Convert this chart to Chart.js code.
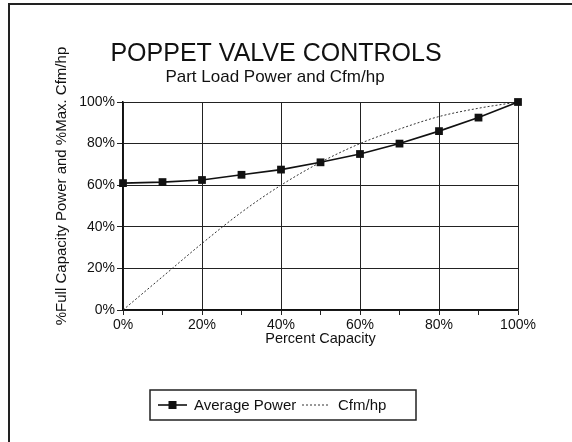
<!DOCTYPE html>
<html>
<head>
<meta charset="utf-8">
<script src="https://cdn.jsdelivr.net/npm/chart.js@4/dist/chart.umd.min.js"></script>
<style>
  html, body { margin: 0; padding: 0; background: #fff; }
  #wrap { width: 572px; height: 442px; position: relative; }
</style>
</head>
<body>
<div id="wrap"><canvas id="c" width="572" height="442"></canvas></div>
<script>
// ---- data ----
const percentCapacity = [0, 10, 20, 30, 40, 50, 60, 70, 80, 90, 100];
const averagePower   = [61, 61.5, 62.5, 65, 67.5, 71, 75, 80, 86, 92.5, 100];
const cfmPerHp       = [0, 16, 32, 47, 60, 71, 80, 87, 93, 97, 100];
const yTickValues    = [0, 20, 40, 60, 80, 100];
const xLabelEvery    = 20;

const titleText    = 'POPPET VALVE CONTROLS';
const subtitleText = 'Part Load Power and Cfm/hp';
const yTitleText   = '%Full Capacity Power and %Max. Cfm/hp';
const xTitleText   = 'Percent Capacity';
const seriesNames  = ['Average Power', 'Cfm/hp'];

const FONT = '"Liberation Sans", Arial, Helvetica, sans-serif';
const INK = '#111';

const decorPlugin = {
  id: 'decor',
  beforeDraw(chart) {
    const ctx = chart.ctx;
    ctx.save();
    ctx.fillStyle = '#fff';
    ctx.fillRect(0, 0, chart.width, chart.height);
    ctx.restore();
  },
  afterDraw(chart) {
    const ctx = chart.ctx;
    ctx.save();
    // frame (left + top only, as in the scan)
    ctx.strokeStyle = '#222';
    ctx.lineWidth = 2;
    ctx.beginPath();
    ctx.moveTo(9, 442); ctx.lineTo(9, 4); ctx.lineTo(572, 4);
    ctx.stroke();

    // titles
    ctx.fillStyle = INK;
    ctx.textAlign = 'center';
    ctx.textBaseline = 'middle';
    ctx.font = '25px ' + FONT;
    ctx.fillText(titleText, 276, 54);
    ctx.font = '17px ' + FONT;
    ctx.fillText(subtitleText, 275, 77);

    // y-axis title
    ctx.save();
    ctx.translate(62, 186);
    ctx.rotate(-Math.PI / 2);
    ctx.font = '15px ' + FONT;
    ctx.fillText(yTitleText, 0, 0);
    ctx.restore();

    // legend box
    const bx = 150, by = 390, bw = 266, bh = 30;
    ctx.strokeStyle = '#222';
    ctx.lineWidth = 1.5;
    ctx.strokeRect(bx, by, bw, bh);
    const cy = by + bh / 2;
    const ds = chart.data.datasets;
    // series 1 sample: line + square marker
    ctx.strokeStyle = ds[0].borderColor;
    ctx.lineWidth = ds[0].borderWidth;
    ctx.setLineDash([]);
    ctx.beginPath(); ctx.moveTo(158, cy); ctx.lineTo(187, cy); ctx.stroke();
    ctx.fillStyle = ds[0].pointBackgroundColor;
    ctx.fillRect(172.5 - 4, cy - 4, 8, 8);
    ctx.fillStyle = INK;
    ctx.textAlign = 'left';
    ctx.font = '15px ' + FONT;
    ctx.fillText(seriesNames[0], 194, cy + 1);
    // series 2 sample: dotted line
    ctx.strokeStyle = ds[1].borderColor;
    ctx.lineWidth = ds[1].borderWidth;
    ctx.setLineDash(ds[1].borderDash);
    ctx.beginPath(); ctx.moveTo(302, cy); ctx.lineTo(330, cy); ctx.stroke();
    ctx.setLineDash([]);
    ctx.fillText(seriesNames[1], 338, cy + 1);
    ctx.restore();
  }
};

new Chart(document.getElementById('c'), {
  type: 'line',
  data: {
    labels: percentCapacity,
    datasets: [
      {
        label: seriesNames[0],
        data: percentCapacity.map((x, i) => ({ x: x, y: averagePower[i] })),
        borderColor: INK,
        borderWidth: 1.6,
        pointStyle: 'rect',
        pointRadius: 5.5,
        pointBackgroundColor: INK,
        pointBorderColor: INK,
        pointBorderWidth: 0,
        tension: 0,
        clip: false
      },
      {
        label: seriesNames[1],
        data: percentCapacity.map((x, i) => ({ x: x, y: cfmPerHp[i] })),
        borderColor: '#333',
        borderWidth: 1,
        borderDash: [2, 2],
        pointRadius: 0,
        cubicInterpolationMode: 'monotone',
        clip: false
      }
    ]
  },
  options: {
    responsive: false,
    animation: false,
    devicePixelRatio: 1,
    layout: { padding: { left: 0, top: 102, right: 54, bottom: 92 } },
    plugins: {
      legend: { display: false },
      title: { display: false },
      tooltip: { enabled: false }
    },
    scales: {
      x: {
        type: 'linear',
        min: 0, max: 100,
        afterFit(scale) { scale.height = 40; },
        ticks: {
          stepSize: 10,
          autoSkip: false,
          maxRotation: 0,
          padding: 2,
          color: INK,
          font: { family: FONT, size: 14 },
          callback: (v) => (v % xLabelEvery === 0 ? v + '%' : '')
        },
        grid: {
          color: (c) => (c.tick && c.tick.value % xLabelEvery === 0 ? '#222' : 'rgba(0,0,0,0)'),
          tickColor: '#222',
          lineWidth: 1,
          tickLength: 5,
          drawTicks: true
        },
        border: { color: '#111', width: 1.5 },
        title: {
          display: true,
          text: xTitleText,
          color: INK,
          font: { family: FONT, size: 14.5 },
          padding: { top: 0, bottom: 2 }
        }
      },
      y: {
        min: 0, max: 100,
        afterFit(scale) { scale.width = 123; },
        afterBuildTicks(scale) { scale.ticks = yTickValues.map(v => ({ value: v })); },
        ticks: {
          padding: 2,
          color: INK,
          font: { family: FONT, size: 14 },
          callback: (v) => v + '%'
        },
        grid: {
          color: '#222',
          tickColor: '#222',
          lineWidth: 1,
          tickLength: 6
        },
        border: { color: '#111', width: 1.5 }
      }
    }
  },
  plugins: [decorPlugin]
});
</script>
</body>
</html>
